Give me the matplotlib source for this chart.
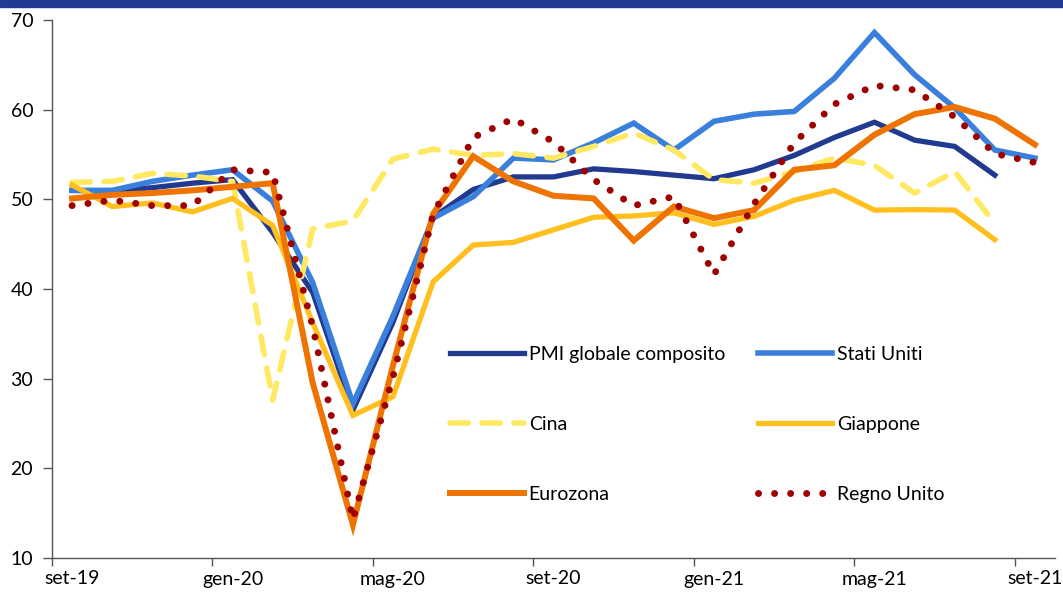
import numpy as np
import matplotlib
matplotlib.use("Agg")
import matplotlib.pyplot as plt
from matplotlib.patches import Rectangle

plt.rcParams['font.family'] = ['Lato', 'DejaVu Sans']

# mesi da set-19 a set-21
mesi = ['set-19', 'ott-19', 'nov-19', 'dic-19', 'gen-20', 'feb-20', 'mar-20', 'apr-20',
        'mag-20', 'giu-20', 'lug-20', 'ago-20', 'set-20', 'ott-20', 'nov-20', 'dic-20',
        'gen-21', 'feb-21', 'mar-21', 'apr-21', 'mag-21', 'giu-21', 'lug-21', 'ago-21', 'set-21']

nan = np.nan
pmi_globale = [51.0, 50.9, 51.3, 51.8, 52.2, 46.3, 39.6, 26.5, 36.3, 48.0, 51.1, 52.5, 52.5,
               53.4, 53.1, 52.7, 52.3, 53.3, 54.9, 56.9, 58.6, 56.6, 55.9, 52.7, nan]
stati_uniti = [51.0, 51.0, 52.0, 52.7, 53.3, 49.8, 40.7, 27.2, 37.0, 47.9, 50.3, 54.6, 54.4,
               56.3, 58.5, 55.5, 58.7, 59.5, 59.8, 63.5, 68.6, 63.9, 60.2, 55.5, 54.6]
cina = [51.9, 52.0, 52.9, 52.6, 52.0, 27.6, 46.7, 47.6, 54.5, 55.6, 54.9, 55.1, 54.6,
        55.9, 57.4, 55.5, 52.2, 51.8, 53.1, 54.6, 53.8, 50.7, 53.1, 47.3, nan]
giappone = [51.6, 49.2, 49.6, 48.6, 50.1, 47.1, 36.2, 25.9, 28.0, 40.8, 44.9, 45.2, 46.6,
            48.0, 48.15, 48.5, 47.2, 48.1, 49.9, 51.0, 48.8, 48.85, 48.8, 45.5, nan]
eurozona = [50.1, 50.5, 50.7, 51.0, 51.4, 51.8, 29.5, 13.7, 31.5, 48.4, 54.8, 52.0, 50.4,
            50.1, 45.4, 49.2, 47.9, 48.8, 53.3, 53.8, 57.2, 59.5, 60.3, 59.0, 56.1]
regno_unito = [49.3, 49.9, 49.3, 49.3, 53.3, 53.0, 35.8, 14.3, 30.2, 48.3, 56.9, 59.0, 56.4,
               52.2, 49.3, 50.3, 41.6, 49.5, 56.3, 60.6, 62.7, 62.2, 59.2, 55.1, 54.1]

x = np.arange(len(mesi)) + 0.5

fig = plt.figure(figsize=(10.63, 5.95), dpi=100)
ax = fig.add_axes([52 / 1063, 1 - 558 / 595, 1003 / 1063, 538 / 595])

# banda blu in alto
fig.add_artist(Rectangle((0, 1 - 7 / 595), 1, 7 / 595, transform=fig.transFigure,
                         color='#213B93', zorder=10))

ax.plot(x, pmi_globale, color='#213A8F', lw=3.8, label='PMI globale composito',
        solid_joinstyle='miter')
ax.plot(x, stati_uniti, color='#3A7FDB', lw=4.0, label='Stati Uniti', solid_joinstyle='miter')
ax.plot(x, cina, color='#FFE963', lw=4.0, ls=(0, (3.3, 2.45)), dash_capstyle='round',
        label='Cina')
ax.plot(x, giappone, color='#FFBF1F', lw=3.8, label='Giappone', solid_joinstyle='miter')
ax.plot(x, eurozona, color='#EF7300', lw=4.3, label='Eurozona', solid_joinstyle='miter')
ax.plot(x, regno_unito, color='#9E0000', lw=5.0, ls=(0, (0.01, 2.3)), dash_capstyle='round',
        label='Regno Unito')

ax.set_xlim(0, 25)
ax.set_ylim(10, 70)
ax.set_yticks(range(10, 71, 10))
ax.set_xticks(np.arange(0, 25, 4))
ax.set_xticklabels([])
ax.set_xticks(x[::4], minor=True)
ax.set_xticklabels(mesi[::4], minor=True)
ax.tick_params(axis='x', which='minor', length=0, pad=9, labelsize=14)
ax.tick_params(axis='x', which='major', length=6, width=1, color='#555555')
ax.tick_params(axis='y', length=6.5, width=1, color='#555555', pad=7, labelsize=14)

for s in ['top', 'right']:
    ax.spines[s].set_visible(False)
for s in ['left', 'bottom']:
    ax.spines[s].set_color('#555555')
    ax.spines[s].set_linewidth(1)

handles, labels = ax.get_legend_handles_labels()
ordine = [0, 2, 4, 1, 3, 5]
ax.legend([handles[i] for i in ordine], [labels[i] for i in ordine], ncol=2,
          loc='upper left', bbox_to_anchor=(450 / 1063, 1 - 346 / 595),
          bbox_transform=fig.transFigure, frameon=False, fontsize=14,
          handlelength=3.8, handletextpad=0.25, columnspacing=1.7,
          labelspacing=2.72, borderpad=0, borderaxespad=0)

fig.savefig('out.png', dpi=100)
